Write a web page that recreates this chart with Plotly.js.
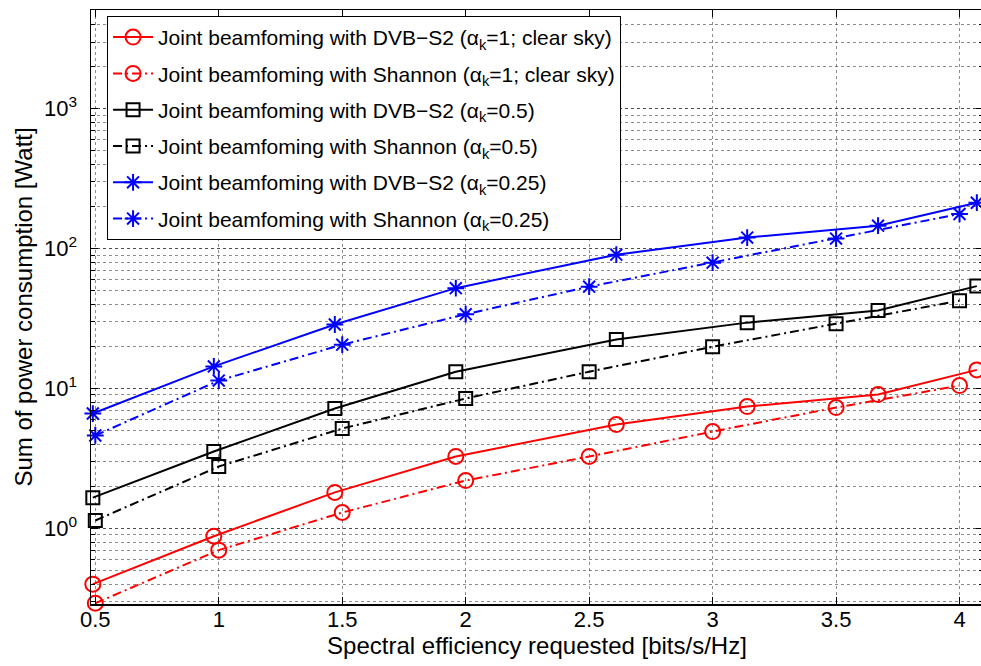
<!DOCTYPE html>
<html>
<head>
<meta charset="utf-8">
<script src="https://cdn.plot.ly/plotly-3.0.1.min.js"></script>
<style>html,body{margin:0;padding:0;overflow:hidden;background:#fff;}</style>
</head>
<body>
<div id="chart"></div>
<script>
// DVB-S2 spectral efficiencies (x) and Shannon requested efficiencies (x)
const xDVB = [0.49, 0.98, 1.47, 1.96, 2.61, 3.14, 3.67, 4.07];
const xShannon = [0.5, 1.0, 1.5, 2.0, 2.5, 3.0, 3.5, 4.0];

// Sum of power consumption [Watt]
const dvbClear = [0.40, 0.88, 1.81, 3.27, 5.53, 7.44, 9.06, 13.6];
const shannonClear = [0.292, 0.70, 1.30, 2.20, 3.27, 4.93, 7.31, 10.5];
const dvbHalf = [1.66, 3.55, 7.2, 13.2, 22.4, 29.6, 36.1, 54.0];
const shannonHalf = [1.14, 2.77, 5.18, 8.49, 13.2, 19.9, 29.1, 42.5];
const dvbQuarter = [6.63, 14.4, 28.7, 52.2, 90.6, 120, 146, 213];
const shannonQuarter = [4.62, 11.4, 20.6, 34.0, 53.5, 79.4, 118, 177];

const seriesNames = [
  'Joint beamfoming with DVB\u2212S2 (\u03b1<sub>k</sub>=1; clear sky)',
  'Joint beamfoming with Shannon (\u03b1<sub>k</sub>=1; clear sky)',
  'Joint beamfoming with DVB\u2212S2 (\u03b1<sub>k</sub>=0.5)',
  'Joint beamfoming with Shannon (\u03b1<sub>k</sub>=0.5)',
  'Joint beamfoming with DVB\u2212S2 (\u03b1<sub>k</sub>=0.25)',
  'Joint beamfoming with Shannon (\u03b1<sub>k</sub>=0.25)'
];

const xTickVals = [0.5, 1, 1.5, 2, 2.5, 3, 3.5, 4];
const xTickText = ['0.5', '1', '1.5', '2', '2.5', '3', '3.5', '4'];
const yTickVals = [1, 10, 100, 1000];
const yTickText = ['10<sup>0</sup>', '10<sup>1</sup>', '10<sup>2</sup>', '10<sup>3</sup>'];

const DASHDOT = '9px,4px,2px,4px';
function mk(x, y, name, color, symbol, size, dash, i) {
  return {
    x: x, y: y, name: name, type: 'scatter', mode: 'lines+markers',
    legendgroup: 'g' + i, cliponaxis: false,
    line: {color: color, width: 2, dash: dash},
    marker: {symbol: symbol, size: size, color: color, line: {color: color, width: 2}}
  };
}

const traces = [
  mk(xDVB, dvbClear, seriesNames[0], '#ff0000', 'circle-open', 15, 'solid', 0),
  mk(xShannon, shannonClear, seriesNames[1], '#ff0000', 'circle-open', 15, DASHDOT, 1),
  mk(xDVB, dvbHalf, seriesNames[2], '#000000', 'square-open', 13, 'solid', 2),
  mk(xShannon, shannonHalf, seriesNames[3], '#000000', 'square-open', 13, DASHDOT, 3),
  mk(xDVB, dvbQuarter, seriesNames[4], '#0000ff', 'asterisk-open', 14, 'solid', 4),
  mk(xShannon, shannonQuarter, seriesNames[5], '#0000ff', 'asterisk-open', 14, DASHDOT, 5)
];

const gridCol = 'rgba(0,0,0,0.45)';
const layout = {
  width: 984, height: 666,
  margin: {l: 91, r: 1, t: 10, b: 62},
  paper_bgcolor: '#ffffff', plot_bgcolor: '#ffffff',
  font: {family: 'Liberation Sans, Arial, sans-serif', color: '#000', size: 22},
  showlegend: true,
  legend: {
    x: 0.018, y: 0.99, xanchor: 'left', yanchor: 'top',
    bgcolor: '#ffffff', bordercolor: '#000000', borderwidth: 1,
    font: {size: 21, family: 'Liberation Sans, Arial, sans-serif', color: '#000'},
    traceorder: 'grouped', tracegroupgap: 6, itemwidth: 40
  },
  xaxis: {
    range: [0.4826, 4.095],
    tickvals: xTickVals, ticktext: xTickText,
    ticks: 'inside', ticklen: 7, tickwidth: 1, tickcolor: '#000',
    showline: true, linecolor: '#000', linewidth: 1.5, mirror: 'ticks',
    showgrid: true, gridcolor: gridCol, griddash: 'dot', gridwidth: 1,
    zeroline: false,
    tickfont: {size: 22},
    ticklabelstandoff: -5,
    title: {text: 'Spectral efficiency requested [bits/s/Hz]', font: {size: 24}, standoff: 0}
  },
  yaxis: {
    type: 'log',
    range: [-0.54, 3.706],
    tickvals: yTickVals, ticktext: yTickText,
    ticks: 'inside', ticklen: 7, tickwidth: 1, tickcolor: '#000',
    showline: true, linecolor: '#000', linewidth: 1.5, mirror: 'ticks',
    showgrid: true, gridcolor: gridCol, griddash: 'dot', gridwidth: 1,
    zeroline: false,
    tickfont: {size: 22},
    ticklabelstandoff: 8,
    minor: {dtick: 'D1', ticks: 'inside', ticklen: 4, tickcolor: '#000',
            showgrid: true, gridcolor: gridCol, griddash: 'dot', gridwidth: 1},
    title: {text: 'Sum of power consumption [Watt]', font: {size: 24}, standoff: 4}
  }
};

Plotly.newPlot('chart', traces, layout, {displayModeBar: false, staticPlot: true});
</script>
</body>
</html>
